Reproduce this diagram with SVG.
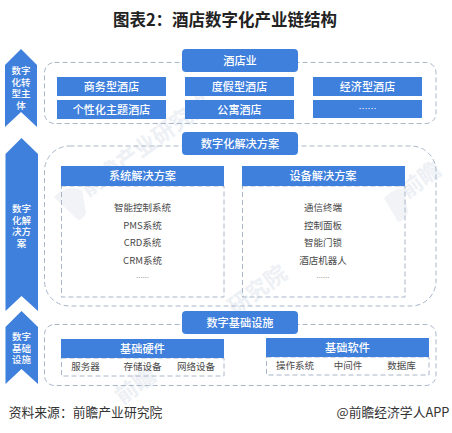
<svg xmlns="http://www.w3.org/2000/svg" width="452" height="433" viewBox="0 0 452 433">
<style>
text{font-family:"Noto Sans CJK SC","Noto Sans",sans-serif;text-anchor:middle}
.b{fill:#3f80dc}
.d{fill:none;stroke:#a8b6ca;stroke-width:1;stroke-dasharray:5 3}
.t{font-size:11px;font-weight:500;fill:#fff;letter-spacing:.1px}
.h{font-size:11.200px;font-weight:500;fill:#fff}
.a{font-size:9.500px;font-weight:500;fill:#fff}
.c{font-size:9.500px;fill:#4a4a4a}
.e{font-size:6.500px;fill:#4a4a4a}
.w{font-size:22px;font-weight:700;fill:#edf0f4}
.l{fill:#f1f3f6}
</style>
<rect width="452" height="433" fill="#fff"/>
<g id="watermarks">
<text class="w" transform="translate(150 152) rotate(-36)">前瞻产业研究院</text>
<text class="w" transform="translate(425 186) rotate(-36)">前瞻</text>
<text class="w" transform="translate(262 296) rotate(-36)">研究院</text>
<text class="w" transform="translate(140 392) rotate(-36)">前瞻</text>
<path class="l" d="M54 197Q66 184 82 190L86 212Q84 220 78 220Z"/>
<path class="l" d="M384 198Q396 186 404 190L408 212Q404 222 398 222Z"/>
</g>
<text x="225" y="26" style="font-size:16.500px;font-weight:700;fill:#222">图表2：酒店数字化产业链结构</text>
<g id="connectors">
<rect class="d" x="44.500" y="62.500" width="391.500" height="61" rx="10"/>
<rect class="d" x="44.500" y="146" width="391.500" height="160" rx="25"/>
<rect class="d" x="44.500" y="324.500" width="391.500" height="61" rx="10"/>
</g>
<g id="arrow-zhuti">
<path class="b" d="M21 49L37 65V127L21 112L5 127V65Z"/>
<text class="a" y="74"><tspan x="21">数字</tspan><tspan x="21" dy="11.700">化转</tspan><tspan x="21" dy="11.700">型主</tspan><tspan x="21" dy="11.700">体</tspan></text>
</g>
<g id="arrow-fangan">
<path class="b" d="M21.500 138L38 154V311L21.500 296L5.500 311V154Z"/>
<text class="a" y="212"><tspan x="21.500">数字</tspan><tspan x="21.500" dy="11.700">化解</tspan><tspan x="21.500" dy="11.700">决方</tspan><tspan x="21.500" dy="11.700">案</tspan></text>
</g>
<g id="arrow-jichu">
<path class="b" d="M21.500 311L38 327V384L21.500 369L5.500 384V327Z"/>
<text class="a" y="340"><tspan x="21.500">数字</tspan><tspan x="21.500" dy="11.700">基础</tspan><tspan x="21.500" dy="11.700">设施</tspan></text>
</g>
<g id="hotel">
<rect class="b" x="182" y="49" width="116" height="23" rx="4"/>
<text class="h" x="240" y="65">酒店业</text>
</g>
<g id="n1"><rect class="b" x="57" y="77" width="109" height="19"/><text class="t" x="111.500" y="91">商务型酒店</text></g>
<g id="n2"><rect class="b" x="57" y="100" width="109" height="19"/><text class="t" x="111.500" y="114">个性化主题酒店</text></g>
<g id="n3"><rect class="b" x="185" y="77" width="109" height="19"/><text class="t" x="239.500" y="91">度假型酒店</text></g>
<g id="n4"><rect class="b" x="185" y="100" width="109" height="19"/><text class="t" x="239.500" y="114">公寓酒店</text></g>
<g id="n5"><rect class="b" x="313" y="77" width="109" height="19"/><text class="t" x="367.500" y="91">经济型酒店</text></g>
<g id="n6"><rect class="b" x="313" y="100" width="109" height="18"/><text x="367.500" y="112" style="font-size:9px;fill:#fff">……</text></g>
<g id="digital">
<rect class="b" x="182" y="132" width="116" height="23" rx="4"/>
<text class="h" x="240" y="148">数字化解决方案</text>
</g>
<g id="system">
<rect class="d" x="61.500" y="186" width="162.500" height="111"/>
<rect class="b" x="61" y="166" width="163" height="20"/>
<text class="h" x="142.500" y="180">系统解决方案</text>
<text class="c" x="142.500" y="211">智能控制系统</text><text class="c" x="142.500" y="228.500">PMS系统</text><text class="c" x="142.500" y="246">CRD系统</text><text class="c" x="142.500" y="263.500">CRM系统</text><text class="e" x="142.500" y="279.500">……</text>
</g>
<g id="device">
<rect class="d" x="242.500" y="186" width="162.500" height="111"/>
<rect class="b" x="242" y="166" width="163" height="20"/>
<text class="h" x="323" y="180">设备解决方案</text>
<text class="c" x="323" y="211">通信终端</text><text class="c" x="323" y="228.500">控制面板</text><text class="c" x="323" y="246">智能门锁</text><text class="c" x="323" y="263.500">酒店机器人</text><text class="e" x="323" y="279.500">……</text>
</g>
<g id="infra">
<rect class="b" x="182" y="311" width="116" height="23" rx="4"/>
<text class="h" x="240" y="327">数字基础设施</text>
</g>
<g id="hardware">
<rect class="d" x="61.500" y="358" width="162.500" height="18"/>
<rect class="b" x="61" y="339" width="163" height="19"/>
<text class="h" x="142.500" y="353">基础硬件</text>
<text class="c" x="85.500" y="370">服务器</text><text class="c" x="142.500" y="370">存储设备</text><text class="c" x="196" y="370">网络设备</text>
</g>
<g id="software">
<rect class="d" x="266.500" y="357" width="162.500" height="18"/>
<rect class="b" x="266" y="338" width="163" height="19"/>
<text class="h" x="347.500" y="352">基础软件</text>
<text class="c" x="295" y="369">操作系统</text><text class="c" x="348" y="369">中间件</text><text class="c" x="401.500" y="369">数据库</text>
</g>
<text x="85.500" y="417" style="font-size:12.800px;fill:#333">资料来源：前瞻产业研究院</text>
<text x="393" y="417" style="font-size:12.800px;fill:#333">@前瞻经济学人APP</text>
</svg>
